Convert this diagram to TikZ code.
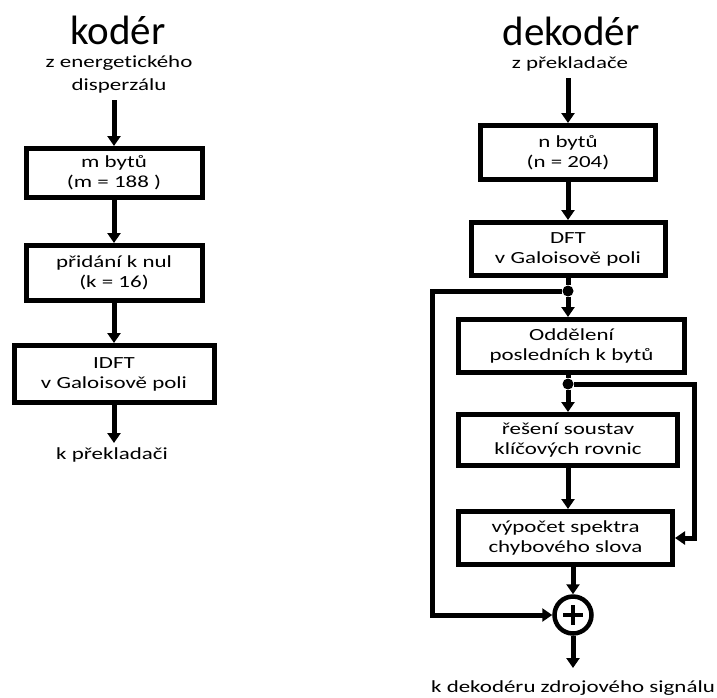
\documentclass[tikz,border=0pt]{standalone}
\usepackage{fontspec}
\setmainfont[Ligatures=NoCommon]{Carlito}
\newfontfamily\siroky[FakeStretch=1.35,Ligatures=NoCommon]{Carlito}
\usetikzlibrary{arrows.meta}
\usetikzlibrary{positioning}

\begin{document}
\begin{tikzpicture}[x=1pt, y=-1pt, >={Triangle[length=10pt,width=13pt]},
    blok/.style={draw, line width=5pt, align=center, inner sep=0pt, font=\siroky\fontsize{17}{20}\selectfont},
    popis/.style={align=center, inner sep=0pt, font=\siroky\fontsize{17}{23}\selectfont},
    nadpis/.style={inner sep=0pt, font=\fontsize{41}{41}\selectfont},
    tok/.style={->, line width=5pt},
    vedeni/.style={line width=5pt},
    spoj/.style={circle, fill, inner sep=0pt, minimum size=11pt},
    soucet/.style={circle, draw, line width=4.5pt, minimum size=37pt, inner sep=0pt}]
      \useasboundingbox (0,0) rectangle (717,697);
      % koder
      \node[nadpis] (koder)  at (118,30)  {kodér};
      \node[popis]  (zdrojK) at (119,74)  {z energetického\\disperzálu};
      \coordinate   (k0)     at (114,100);
      \node[blok, minimum width=176pt, minimum height=49pt] (mbytu)   at (114,173) {m bytů\\(m = 188 )};
      \node[blok, minimum width=176pt, minimum height=55pt] (pridani) at (114,273) {přidání k nul\\(k = 16)};
      \node[blok, minimum width=200pt, minimum height=57pt] (idft)    at (114,374) {IDFT\\v Galoisově poli};
      \coordinate   (k1)     at (114,443);
      \node[popis]  (vystupK) at (112,455) {k překladači};
      \draw[tok] (k0) -- (mbytu);
      \draw[tok] (mbytu) -- (pridani);
      \draw[tok] (pridani) -- (idft);
      \draw[tok] (idft) -- (k1);
      % dekoder
      \node[nadpis] (dekoder) at (571,31) {dekodér};
      \node[popis]  (zdrojD)  at (570,64) {z překladače};
      \coordinate   (d0)      at (568,78);
      \node[blok, minimum width=175pt, minimum height=54pt] (nbytu)   at (568,152.5) {n bytů\\(n = 204)};
      \node[blok, minimum width=194pt, minimum height=53pt] (dft)     at (568,249)   {DFT\\v Galoisově poli};
      \node[spoj] (j1) at (568,291) {};
      \node[blok, minimum width=226pt, minimum height=53pt] (oddel)   at (571.5,346) {Oddělení\\posledních k bytů};
      \node[spoj] (j2) at (568,384) {};
      \node[blok, minimum width=219pt, minimum height=51pt] (reseni)  at (568,440)   {řešení soustav\\klíčových rovnic};
      \node[blok, minimum width=214pt, minimum height=53pt] (vypocet) at (565.5,538) {výpočet spektra\\chybového slova};
      \node[soucet] (plus) at (573,615) {};
      \draw[line width=4pt] (plus.center) +(-10,0) -- +(10,0) +(0,-10) -- +(0,10);
      \coordinate (l1) at (432,291);
      \coordinate (r1) at (694,384);
      \coordinate (d1) at (573,668);
      \node[popis] (vystupD) at (573,688) {k dekodéru zdrojového signálu};
      \draw[tok]    (d0) -- (nbytu);
      \draw[tok]    (nbytu) -- (dft);
      \draw[vedeni] (dft.south -| j1) -- (j1);
      \draw[tok]    (j1) -- (oddel.north -| j1);
      \draw[vedeni] (oddel.south -| j2) -- (j2);
      \draw[tok]    (j2) -- (reseni.north -| j2);
      \draw[tok]    (reseni.south) -- (reseni.south |- vypocet.north);
      \draw[tok]    (vypocet.south -| plus) -- (plus);
      \draw[tok]    (j1) -- (l1) |- (plus);
      \draw[tok]    (j2) -- (r1) |- (vypocet);
      \draw[tok]    (plus) -- (d1);
    \end{tikzpicture}
\end{document}
